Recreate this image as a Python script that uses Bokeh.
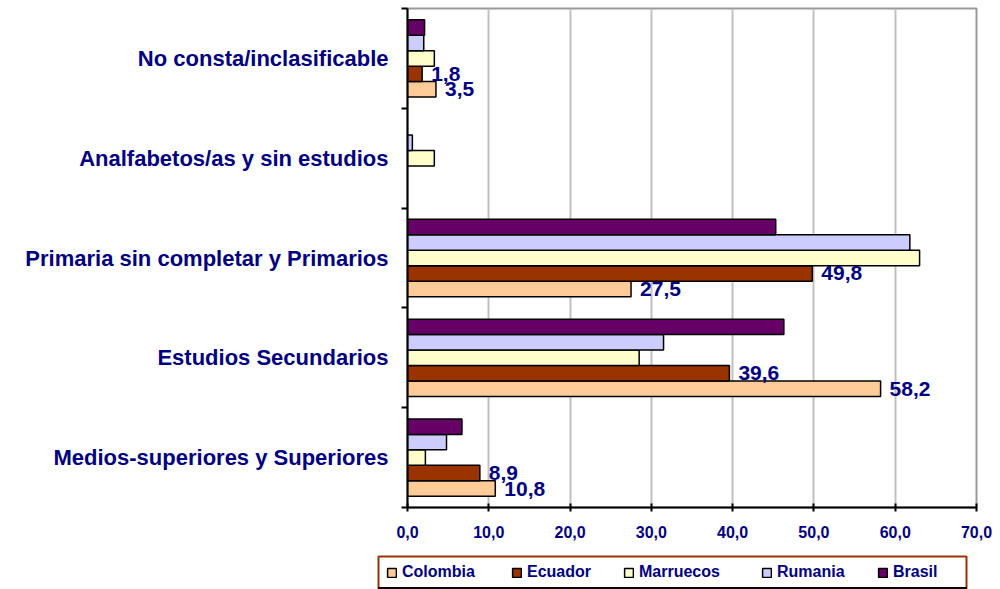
from bokeh.plotting import figure
from bokeh.models import Range1d, FixedTicker, Legend, LegendItem, ColumnDataSource
from bokeh.layouts import column
from bokeh.core.properties import value
from bokeh.embed import file_html
from bokeh.resources import INLINE
import math

# ---- data ----
categories = ["Medios-superiores y Superiores", "Estudios Secundarios",
              "Primaria sin completar y Primarios", "Analfabetos/as y sin estudios",
              "No consta/inclasificable"]
series = ["Colombia", "Ecuador", "Marruecos", "Rumania", "Brasil"]
colombia = [10.8, 58.2, 27.5, float("nan"), 3.5]
ecuador = [8.9, 39.6, 49.8, float("nan"), 1.8]
marruecos = [2.2, 28.5, 63.0, 3.3, 3.3]
rumania = [4.8, 31.5, 61.8, 0.6, 2.0]
brasil = [6.7, 46.3, 45.3, float("nan"), 2.1]
x_ticks = [0, 10, 20, 30, 40, 50, 60, 70]

values = [colombia, ecuador, marruecos, rumania, brasil]
colors = ["#FFCC99", "#993300", "#FFFFCC", "#CCCCFF", "#660066"]
labelled = [True, True, False, False, False]

NAVY = "#000080"
FONT = "Liberation Sans"

p = figure(width=1000, height=545, output_backend="svg", toolbar_location=None,
           x_range=Range1d(0, 70), y_range=Range1d(0, 5),
           min_border_left=407, min_border_right=24, min_border_top=8,
           min_border_bottom=38)
p.frame_align = False
p.background_fill_color = "white"
p.border_fill_color = "white"
p.outline_line_color = "#999999"
p.outline_line_width = 2

bar_h = 0.155
offsets = [-0.31, -0.155, 0.0, 0.155, 0.31]
centers = [i + 0.5 for i in range(len(categories))]

sources = []
for name, vals, col, off in zip(series, values, colors, offsets):
    src = ColumnDataSource(dict(y=[c + off for c in centers], right=vals))
    sources.append(src)
    p.hbar(y="y", left=0, right="right", height=bar_h, source=src,
           fill_color=col, line_color="black", line_width=1.5)

for name, vals, off, lab in zip(series, values, offsets, labelled):
    if not lab:
        continue
    xs, ys, ts = [], [], []
    for c, v in zip(centers, vals):
        if v is None or math.isnan(v):
            continue
        xs.append(v)
        ys.append(c + off)
        ts.append(f"{v:.1f}".replace(".", ","))
    p.text(x=xs, y=ys, text=ts, x_offset=9, text_baseline="middle",
           text_align="left", text_font=value(FONT), text_font_style="bold",
           text_font_size="21px", text_color=NAVY)

# x axis
xa = p.xaxis[0]
xa.ticker = FixedTicker(ticks=x_ticks)
xa.major_label_overrides = {t: f"{t:.1f}".replace(".", ",") for t in x_ticks}
xa.major_tick_in = 4
xa.major_tick_out = 4
xa.minor_tick_out = 0
xa.minor_tick_in = 0
xa.axis_line_width = 2
xa.axis_line_color = "black"
xa.major_tick_line_width = 2
xa.major_label_text_font = FONT
xa.major_label_text_font_style = "bold"
xa.major_label_text_font_size = "16px"
xa.major_label_text_color = NAVY
xa.major_label_standoff = 14

# y axis
ya = p.yaxis[0]
ya.ticker = FixedTicker(ticks=centers, minor_ticks=[0, 1, 2, 3, 4, 5])
ya.major_label_overrides = {c: cat for c, cat in zip(centers, categories)}
ya.major_tick_in = 0
ya.major_tick_out = 0
ya.minor_tick_in = 0
ya.minor_tick_out = 6
ya.minor_tick_line_width = 2
ya.axis_line_width = 2
ya.axis_line_color = "black"
ya.major_label_text_font = FONT
ya.major_label_text_font_style = "bold"
ya.major_label_text_font_size = "22px"
ya.major_label_text_color = NAVY
ya.major_label_standoff = 13

p.xgrid.ticker = FixedTicker(ticks=x_ticks[1:-1])
p.xgrid.grid_line_color = "#C0C0C0"
p.xgrid.grid_line_width = 2
p.ygrid.visible = False

# ---- legend strip (its data lies outside its view, only the legend shows) ----
lg = figure(width=1000, height=44, output_backend="svg", toolbar_location=None,
            x_range=Range1d(0, 1), y_range=Range1d(100, 101),
            x_axis_location=None, y_axis_location=None,
            min_border_left=378, min_border_right=34, min_border_top=11,
            min_border_bottom=1)
lg.frame_align = False
lg.grid.visible = False
lg.outline_line_color = "#993300"
lg.outline_line_width = 2
lg.border_fill_color = "white"

item_x = [8, 133, 245, 383, 499]
for name, col, ix, src in zip(series, colors, item_x, sources):
    r = lg.hbar(y="y", left=0, right="right", height=bar_h, source=src,
                fill_color=col, line_color="black", line_width=1.5)
    leg = Legend(items=[LegendItem(label=name, renderers=[r])],
                 location=(ix, 7), orientation="horizontal",
                 label_text_font=FONT, label_text_font_style="bold",
                 label_text_font_size="16px", label_text_color=NAVY,
                 glyph_width=11, glyph_height=11, label_standoff=5,
                 padding=0, margin=0, border_line_color=None,
                 background_fill_alpha=0)
    lg.add_layout(leg, "center")

layout = column(p, lg, spacing=0)
open("out.html", "w").write(file_html(layout, INLINE))
